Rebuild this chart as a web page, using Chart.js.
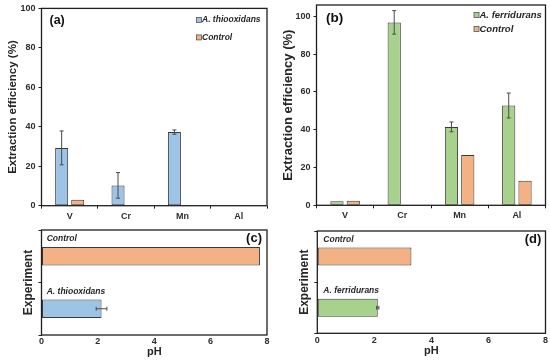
<!DOCTYPE html>
<html><head><meta charset="utf-8">
<script src="https://cdn.jsdelivr.net/npm/chart.js@4.4.1/dist/chart.umd.min.js"></script>
<style>
html,body{margin:0;padding:0;background:#fff;width:550px;height:363px;overflow:hidden;position:relative}
canvas{position:absolute}
</style></head><body>
<canvas id="ca"></canvas><canvas id="cb"></canvas><canvas id="cc"></canvas><canvas id="cd"></canvas>
<script>
// ---- data ----
const metals = ['V', 'Cr', 'Mn', 'Al'];
const thioValues = [29.3, 10.3, 37.3, 0];
const thioErrors = [8.6, 6.5, 1.1, 0];
const controlA = [3.0, 0, 0, 0];
const ferriValues = [2.1, 96.8, 41.5, 52.8];
const ferriErrors = [0, 6.2, 2.6, 6.6];
const controlB = [2.4, 0, 26.6, 13.0];
const effTicks = [0, 20, 40, 60, 80, 100];
const pHCatsC = ['Control', 'A. thiooxidans'];
const pHValsC = [7.75, 2.13];
const pHErrC = [0, 0.19];
const pHCatsD = ['Control', 'A. ferridurans'];
const pHValsD = [3.3, 2.12];
const pHErrD = [0, 0.04];
const pHTicks = [0, 2, 4, 6, 8];

// ---- styles ----
const FAM = "'Liberation Sans', Arial, sans-serif";
const BLUE = '#9DC3E6', ORANGE = '#F4B183', GREEN = '#A9D18E';
const EDGE = '#3a3a3a', AXIS = '#1f1f1f', TICK = '#2e2e2e', ERR = '#4a4a4a';

function place(id, left, top, w, h) {
  const c = document.getElementById(id);
  c.style.left = left + 'px'; c.style.top = top + 'px';
  c.width = w; c.height = h; c.style.width = w + 'px'; c.style.height = h + 'px';
  return c;
}

const decor = {
  id: 'decor',
  afterDatasetsDraw(chart, args, o) {
    const ctx = chart.ctx, a = chart.chartArea;
    const horiz = chart.options.indexAxis === 'y';
    // error bars
    chart.data.datasets.forEach((ds, di) => {
      if (!ds.errorBars) return;
      const meta = chart.getDatasetMeta(di);
      const vs = horiz ? chart.scales.x : chart.scales.y;
      ctx.save(); ctx.strokeStyle = ERR; ctx.lineWidth = 1;
      meta.data.forEach((el, i) => {
        const e = ds.errorBars[i], v = ds.data[i];
        if (!e) return;
        const p1 = vs.getPixelForValue(v - e), p2 = vs.getPixelForValue(v + e);
        const cap = 2;
        ctx.beginPath();
        if (horiz) {
          const y = el.y;
          ctx.moveTo(p1, y); ctx.lineTo(p2, y);
          ctx.moveTo(p1, y - cap); ctx.lineTo(p1, y + cap);
          ctx.moveTo(p2, y - cap); ctx.lineTo(p2, y + cap);
        } else {
          const x = el.x;
          ctx.moveTo(x, p1); ctx.lineTo(x, p2);
          ctx.moveTo(x - cap, p1); ctx.lineTo(x + cap, p1);
          ctx.moveTo(x - cap, p2); ctx.lineTo(x + cap, p2);
        }
        ctx.stroke();
      });
      ctx.restore();
    });
    // frame
    ctx.save();
    ctx.strokeStyle = AXIS; ctx.lineWidth = 1.3;
    ctx.strokeRect(a.left, a.top, a.right - a.left, a.bottom - a.top);
    ctx.restore();
    // panel label
    if (o.panel) {
      ctx.save();
      ctx.fillStyle = '#111';
      ctx.font = 'bold ' + o.panel.size + 'px ' + FAM;
      ctx.textBaseline = 'middle';
      ctx.textAlign = o.panel.align;
      const x = o.panel.align === 'left' ? a.left + o.panel.dx : a.right - o.panel.dx;
      ctx.fillText(o.panel.text, x, a.top + o.panel.dy);
      ctx.restore();
    }
    // legend
    if (o.legend) {
      const L = o.legend;
      ctx.save();
      ctx.font = 'italic bold ' + L.size + 'px ' + FAM;
      ctx.textBaseline = 'middle'; ctx.textAlign = 'left';
      chart.data.datasets.forEach((ds, i) => {
        const y = a.top + L.rows[i];
        const sx = a.right - L.sq;
        ctx.fillStyle = ds.backgroundColor;
        ctx.fillRect(sx, y - 2.5, 5, 5);
        ctx.strokeStyle = '#555'; ctx.lineWidth = 0.8;
        ctx.strokeRect(sx, y - 2.5, 5, 5);
        ctx.fillStyle = '#262626';
        ctx.fillText(ds.label, a.right - L.tx, y);
      });
      ctx.restore();
    }
    // bar labels (horizontal panels)
    if (o.barLabels) {
      const B = o.barLabels;
      const meta = chart.getDatasetMeta(0);
      ctx.save();
      ctx.font = 'italic bold ' + B.size + 'px ' + FAM;
      ctx.textBaseline = 'middle'; ctx.textAlign = 'left';
      ctx.fillStyle = '#262626';
      meta.data.forEach((el, i) => {
        ctx.fillText(chart.data.labels[i], a.left + B.dx, el.y - el.height / 2 - B.up);
      });
      ctx.restore();
    }
  }
};

const tickFont = { family: FAM, size: 9, weight: 'bold' };

function effChart(id, left, top, w, h, cfg) {
  return new Chart(place(id, left, top, w, h), {
    type: 'bar',
    data: { labels: metals, datasets: cfg.datasets },
    options: {
      responsive: false, animation: false, devicePixelRatio: 1,
      layout: { padding: { top: cfg.padTop, right: cfg.padRight, left: 0, bottom: 0 } },
      datasets: { bar: { categoryPercentage: 0.57, barPercentage: 0.81, borderSkipped: false } },
      plugins: { legend: { display: false }, tooltip: { enabled: false }, decor: cfg.decor },
      scales: {
        x: {
          grid: { offset: true, drawOnChartArea: false, tickLength: 3, color: AXIS, lineWidth: 1 },
          border: { display: false },
          ticks: { font: tickFont, color: TICK, padding: 2 },
          afterFit: s => { s.height = cfg.xH; }
        },
        y: {
          min: 0, max: cfg.max,
          afterBuildTicks: s => { s.ticks = effTicks.map(v => ({ value: v })); },
          grid: { drawOnChartArea: false, tickLength: 3, color: AXIS, lineWidth: 1 },
          border: { display: false },
          ticks: { font: tickFont, color: TICK, padding: 3 },
          title: { display: true, text: 'Extraction efficiency (%)', color: '#262626',
                   font: { family: FAM, size: cfg.titleSize, weight: 'bold', lineHeight: 1 },
                   padding: { top: 13 - cfg.titleSize / 2, bottom: 0 } },
          afterFit: s => { s.width = cfg.yW; }
        }
      }
    },
    plugins: [decor]
  });
}

function pHChart(id, left, top, w, h, cfg) {
  return new Chart(place(id, left, top, w, h), {
    type: 'bar',
    data: { labels: cfg.labels, datasets: [{ label: 'pH', data: cfg.values, errorBars: cfg.errors,
      backgroundColor: cfg.colors, borderColor: EDGE, borderWidth: 1, borderSkipped: false }] },
    options: {
      indexAxis: 'y',
      responsive: false, animation: false, devicePixelRatio: 1,
      layout: { padding: { top: cfg.padTop, right: cfg.padRight, left: 0, bottom: 0 } },
      datasets: { bar: { categoryPercentage: 1, barPercentage: 0.352 } },
      plugins: { legend: { display: false }, tooltip: { enabled: false }, decor: cfg.decor },
      scales: {
        x: {
          min: 0, max: 8,
          afterBuildTicks: s => { s.ticks = pHTicks.map(v => ({ value: v })); },
          grid: { drawOnChartArea: false, tickLength: 0, color: AXIS },
          border: { display: false },
          ticks: { font: tickFont, color: TICK, padding: cfg.tickPad },
          title: { display: true, text: 'pH', color: '#262626',
                   font: { family: FAM, size: 11, weight: 'bold', lineHeight: 1 },
                   padding: { top: 0, bottom: cfg.phPad } },
          afterFit: s => { s.height = cfg.xH; }
        },
        y: {
          grid: { offset: true, drawOnChartArea: false, tickLength: 3, color: AXIS },
          border: { display: false },
          ticks: { display: false },
          title: { display: true, text: 'Experiment', color: '#262626',
                   font: { family: FAM, size: 12, weight: 'bold', lineHeight: 1 },
                   padding: { top: cfg.expOff - 6, bottom: 0 } },
          afterFit: s => { s.width = cfg.yW; }
        }
      }
    },
    plugins: [decor]
  });
}

effChart('ca', 0, 0, 275, 220, {
  datasets: [
    { label: 'A. thiooxidans', data: thioValues, errorBars: thioErrors, backgroundColor: BLUE, borderColor: EDGE, borderWidth: 1 },
    { label: 'Control', data: controlA, backgroundColor: ORANGE, borderColor: EDGE, borderWidth: 1 }
  ],
  padTop: 7.5, padRight: 8, xH: 14.3, yW: 41.5, max: 100, titleSize: 11.5,
  decor: { panel: { text: '(a)', size: 12.5, align: 'left', dx: 8, dy: 12.5 },
           legend: { size: 8.5, rows: [11.5, 29], sq: 70.5, tx: 65 } }
});

effChart('cb', 275, -10, 275, 230, {
  datasets: [
    { label: 'A. ferridurans', data: ferriValues, errorBars: ferriErrors, backgroundColor: GREEN, borderColor: EDGE, borderWidth: 1 },
    { label: 'Control', data: controlB, backgroundColor: ORANGE, borderColor: EDGE, borderWidth: 1 }
  ],
  padTop: 15, padRight: 4.5, xH: 14.7, yW: 41.5, max: 106, titleSize: 13,
  decor: { panel: { text: '(b)', size: 13.5, align: 'left', dx: 9.5, dy: 13 },
           legend: { size: 9.5, rows: [10, 24], sq: 71.5, tx: 66 } }
});

pHChart('cc', 0, 220, 275, 143, {
  labels: pHCatsC, values: pHValsC, errors: pHErrC, colors: [ORANGE, BLUE],
  padTop: 10, padRight: 8, xH: 28, yW: 41.5, tickPad: 1, phPad: 5.8, expOff: 29,
  decor: { panel: { text: '(c)', size: 13, align: 'right', dx: 5, dy: 8 },
           barLabels: { size: 8.5, dx: 5.2, up: 8 } }
});

pHChart('cd', 275, 220, 275, 143, {
  labels: pHCatsD, values: pHValsD, errors: pHErrD, colors: [ORANGE, GREEN],
  padTop: 11, padRight: 4.3, xH: 29.7, yW: 42.3, tickPad: 2, phPad: 6.8, expOff: 30,
  decor: { panel: { text: '(d)', size: 13, align: 'right', dx: 4.2, dy: 8 },
           barLabels: { size: 8.5, dx: 6, up: 8 } }
});
</script>
</body></html>
